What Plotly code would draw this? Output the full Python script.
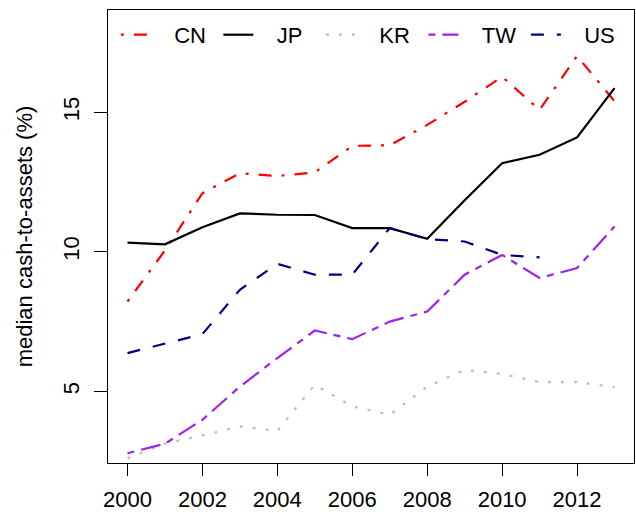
import plotly.graph_objects as go

years = list(range(2000, 2014))

cn = [8.22, 10.05, 12.1, 12.82, 12.72, 12.85, 13.8, 13.82, 14.55, 15.38, 16.28, 15.09, 17.02, 15.4]
jp = [10.33, 10.27, 10.88, 11.38, 11.33, 11.32, 10.85, 10.85, 10.47, 11.85, 13.18, 13.48, 14.1, 15.87]
kr = [2.6, 3.13, 3.42, 3.74, 3.58, 5.23, 4.46, 4.16, 5.17, 5.77, 5.62, 5.33, 5.33, 5.15]
tw = [2.78, 3.12, 3.98, 5.17, 6.19, 7.18, 6.87, 7.5, 7.86, 9.18, 9.89, 9.06, 9.42, 10.91]
us_years = list(range(2000, 2012))
us = [6.37, 6.72, 7.05, 8.64, 9.57, 9.18, 9.18, 10.85, 10.46, 10.37, 9.89, 9.8]

xticks = [2000, 2002, 2004, 2006, 2008, 2010, 2012]
yticks = [5, 10, 15]

FONT = "Liberation Sans, Arial, sans-serif"
FS = 22
PAD = "\u00a0\u00a0\u00a0"

fig = go.Figure()
series = [
    ("CN", years, cn, "#FF0000", "3px,10px,13px,10px"),
    ("JP", years, jp, "#000000", "solid"),
    ("KR", years, kr, "#BEBEBE", "3px,10px"),
    ("TW", years, tw, "#A020F0", "7px,7px,20px,7px"),
    ("US", us_years, us, "#000080", "13px,13px"),
]
for name, xs, ys, col, dash in series:
    fig.add_trace(go.Scatter(x=xs, y=ys, name=PAD + name, mode="lines",
                             line=dict(color=col, width=2.2, dash=dash)))

fig.update_layout(
    width=636, height=515,
    margin=dict(l=108, r=2, t=10, b=52, autoexpand=False),
    paper_bgcolor="white", plot_bgcolor="white",
    font=dict(family=FONT, size=FS, color="#000"),
    showlegend=True,
    legend=dict(orientation="h", x=0.015, xanchor="left", y=0.945, yanchor="middle",
                bgcolor="rgba(0,0,0,0)", font=dict(size=FS),
                entrywidth=57.5, entrywidthmode="pixels", itemwidth=30),
    xaxis=dict(range=[1999.48, 2013.52], tickvals=xticks, ticks="outside", ticklen=12,
               tickcolor="#000", showline=True, linecolor="#000", linewidth=1, mirror=True,
               showgrid=False, zeroline=False, tickfont=dict(size=FS), automargin=False,
               ticklabelstandoff=5),
    yaxis=dict(range=[2.43, 18.67], tickvals=yticks, ticks="outside", ticklen=13,
               tickcolor="#000", showline=True, linecolor="#000", linewidth=1, mirror=True,
               showgrid=False, zeroline=False, tickangle=-90, tickfont=dict(size=FS),
               ticklabelstandoff=6, automargin=False,
               title=dict(text="median cash-to-assets (%)", font=dict(size=FS), standoff=20)),
)

fig.write_html("out.html", config={"displayModeBar": False},
               post_script="document.body.style.margin='0px';")
